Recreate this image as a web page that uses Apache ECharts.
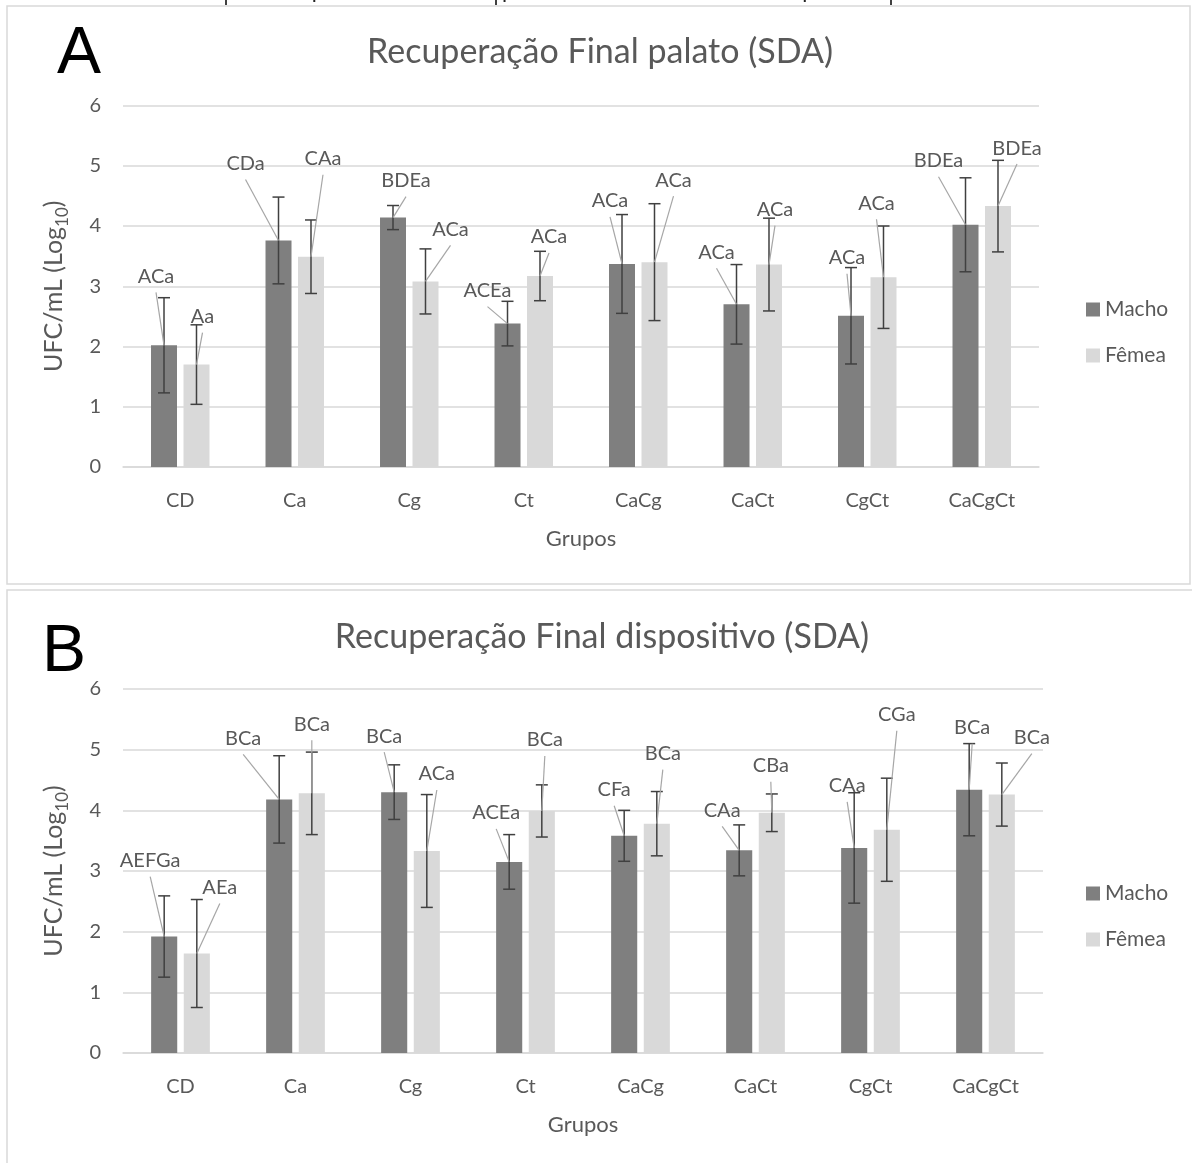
<!DOCTYPE html>
<html>
<head>
<meta charset="utf-8">
<script src="https://cdn.jsdelivr.net/npm/echarts@6.0.0/dist/echarts.min.js"></script>
<style>
    html, body { margin: 0; padding: 0; background: #fff; }
    #chartDiv { width: 1192px; height: 1163px; }
</style>
</head>
<body>
<div id="chartDiv"></div>
<script>
// Dados
const categories = ['CD', 'Ca', 'Cg', 'Ct', 'CaCg', 'CaCt', 'CgCt', 'CaCgCt'];

// A - palato
const palatoMacho = [2.02, 3.76, 4.14, 2.38, 3.37, 2.70, 2.51, 4.02];
const palatoMachoErr = [0.79, 0.72, 0.20, 0.37, 0.82, 0.66, 0.80, 0.78];
const palatoFemea = [1.70, 3.49, 3.08, 3.17, 3.40, 3.36, 3.15, 4.33];
const palatoFemeaErr = [0.66, 0.61, 0.54, 0.41, 0.97, 0.77, 0.85, 0.76];
const palatoMachoLabels = ['ACa', 'CDa', 'BDEa', 'ACEa', 'ACa', 'ACa', 'ACa', 'BDEa'];
const palatoFemeaLabels = ['Aa', 'CAa', 'ACa', 'ACa', 'ACa', 'ACa', 'ACa', 'BDEa'];

// B - dispositivo
const dispMacho = [1.92, 4.18, 4.30, 3.15, 3.58, 3.34, 3.38, 4.34];
const dispMachoErr = [0.67, 0.72, 0.45, 0.45, 0.42, 0.42, 0.91, 0.76];
const dispFemea = [1.64, 4.28, 3.33, 3.99, 3.78, 3.96, 3.68, 4.26];
const dispFemeaErr = [0.89, 0.68, 0.93, 0.43, 0.53, 0.31, 0.85, 0.52];
const dispMachoLabels = ['AEFGa', 'BCa', 'BCa', 'ACEa', 'CFa', 'CAa', 'CAa', 'BCa'];
const dispFemeaLabels = ['AEa', 'BCa', 'ACa', 'BCa', 'BCa', 'CBa', 'CGa', 'BCa'];

// posição dos rótulos (px, relativo ao topo da barra)
const palatoMachoDx = [-8, -33, 13, -20, -12, -20, -4, -27];
const palatoMachoDy = [-69, -77, -37, -33, -63, -52, -58, -64];
const palatoFemeaDx = [6, 12, 25, 9, 19, 6, -7, 19];
const palatoFemeaDy = [-48, -98, -52, -39, -82, -55, -74, -58];
const dispMachoDx = [-14, -36, -10, -13, -10, -17, -7, 3];
const dispMachoDy = [-76, -61, -56, -49, -46, -40, -62, -62];
const dispFemeaDx = [23, 0, 10, 3, 6, -1, 10, 30];
const dispFemeaDy = [-66, -69, -77, -71, -70, -47, -115, -57];

const FONT = 'Lato, "Noto Sans", sans-serif';
const TEXT_COLOR = '#595959';
const MACHO_COLOR = '#7f7f7f';
const FEMEA_COLOR = '#d9d9d9';
const GRID_COLOR = '#d9d9d9';
const BAR_WIDTH_RATIO = 0.227;
const BAR_GAP_RATIO = 0.25;
const LEADER_GAP = 16;

function barOffset(band, sexIdx) {
    const bw = band * BAR_WIDTH_RATIO;
    const gap = bw * BAR_GAP_RATIO;
    return (sexIdx === 0 ? -1 : 1) * (bw + gap) / 2;
}

function barSeries(name, gridIdx, values, color) {
    return {
        name: name,
        type: 'bar',
        xAxisIndex: gridIdx,
        yAxisIndex: gridIdx,
        data: values,
        barWidth: (BAR_WIDTH_RATIO * 100) + '%',
        barGap: (BAR_GAP_RATIO * 100) + '%',
        itemStyle: { color: color },
        silent: true
    };
}

function errorSeries(gridIdx, values, errs, sexIdx) {
    return {
        type: 'custom',
        xAxisIndex: gridIdx,
        yAxisIndex: gridIdx,
        z: 5,
        silent: true,
        data: values.map((v, i) => [i, v, errs[i]]),
        renderItem: (params, api) => {
            const i = api.value(0), v = api.value(1), e = api.value(2);
            const band = api.size([1, 0])[0];
            const x = api.coord([i, v])[0] + barOffset(band, sexIdx);
            const yTop = api.coord([i, v + e])[1];
            const yBot = api.coord([i, v - e])[1];
            const cap = 6;
            const style = { stroke: '#404040', lineWidth: 1.5 };
            return {
                type: 'group',
                children: [
                    { type: 'line', shape: { x1: x, y1: yTop, x2: x, y2: yBot }, style: style },
                    { type: 'line', shape: { x1: x - cap, y1: yTop, x2: x + cap, y2: yTop }, style: style },
                    { type: 'line', shape: { x1: x - cap, y1: yBot, x2: x + cap, y2: yBot }, style: style }
                ]
            };
        }
    };
}

function labelSeries(gridIdx, values, labels, dx, dy, sexIdx) {
    return {
        type: 'custom',
        xAxisIndex: gridIdx,
        yAxisIndex: gridIdx,
        z: 6,
        silent: true,
        data: values.map((v, i) => [i, v]),
        renderItem: (params, api) => {
            const i = api.value(0), v = api.value(1);
            const band = api.size([1, 0])[0];
            const p = api.coord([i, v]);
            const x = p[0] + barOffset(band, sexIdx);
            const y = p[1];
            const lx = x + dx[i], ly = y + dy[i];
            return {
                type: 'group',
                children: [
                    { type: 'line', shape: { x1: lx, y1: ly + LEADER_GAP, x2: x, y2: y },
                      style: { stroke: '#a6a6a6', lineWidth: 1.2 } },
                    { type: 'text', x: lx, y: ly,
                      style: { text: labels[i], fill: TEXT_COLOR, fontSize: 20, fontFamily: FONT,
                               align: 'center', verticalAlign: 'middle' } }
                ]
            };
        }
    };
}

function xAxisFor(gridIdx) {
    return {
        type: 'category',
        gridIndex: gridIdx,
        data: categories,
        axisTick: { show: false },
        axisLine: { lineStyle: { color: GRID_COLOR, width: 1.5 } },
        axisLabel: { color: TEXT_COLOR, fontSize: 20, fontFamily: FONT, margin: 24 },
        name: 'Grupos',
        nameLocation: 'middle',
        nameGap: 61,
        nameTextStyle: { color: TEXT_COLOR, fontSize: 22, fontFamily: FONT }
    };
}

function yAxisFor(gridIdx) {
    return {
        type: 'value',
        gridIndex: gridIdx,
        min: 0,
        max: 6,
        interval: 1,
        axisLine: { show: false },
        axisTick: { show: false },
        axisLabel: { color: TEXT_COLOR, fontSize: 20, fontFamily: FONT, margin: 22 },
        splitLine: { lineStyle: { color: GRID_COLOR, width: 1.5 } },
        name: '{a|UFC/mL (Log}{b|10}{a|)}',
        nameLocation: 'middle',
        nameGap: 52,
        nameTextStyle: {
            rich: {
                a: { color: TEXT_COLOR, fontSize: 25, fontFamily: FONT, lineHeight: 34, verticalAlign: 'middle' },
                b: { color: TEXT_COLOR, fontSize: 17, fontFamily: FONT, lineHeight: 34, verticalAlign: 'bottom' }
            }
        }
    };
}

function legendFor(top) {
    return {
        data: ['Macho', 'Fêmea'],
        orient: 'vertical',
        left: 1081,
        top: top,
        icon: 'rect',
        itemWidth: 14,
        itemHeight: 14,
        itemGap: 25,
        textStyle: { color: TEXT_COLOR, fontSize: 21, fontFamily: FONT, lineHeight: 20 }
    };
}

const chartDom = document.getElementById('chartDiv');
const myChart = echarts.init(chartDom, null, { renderer: 'canvas' });

const option = {
    backgroundColor: '#fff',
    animation: false,
    title: [
        { text: 'Recuperação Final palato (SDA)', left: 600, top: 52, textAlign: 'center',
          textVerticalAlign: 'middle', padding: 0,
          textStyle: { color: TEXT_COLOR, fontSize: 34, fontWeight: 'normal', fontFamily: FONT } },
        { text: 'Recuperação Final dispositivo (SDA)', left: 602, top: 637, textAlign: 'center',
          textVerticalAlign: 'middle', padding: 0,
          textStyle: { color: TEXT_COLOR, fontSize: 34, fontWeight: 'normal', fontFamily: FONT } }
    ],
    legend: [legendFor(294), legendFor(878)],
    grid: [
        { left: 123, top: 105.5, width: 916, height: 361.5 },
        { left: 123, top: 689, width: 920, height: 364 }
    ],
    xAxis: [xAxisFor(0), xAxisFor(1)],
    yAxis: [yAxisFor(0), yAxisFor(1)],
    graphic: [
        { type: 'rect', shape: { x: 7, y: 6, width: 1183, height: 578 },
          style: { fill: 'none', stroke: '#d9d9d9', lineWidth: 1.5 }, silent: true },
        { type: 'polyline', shape: { points: [[1195, 590], [7, 590], [7, 1170]] },
          style: { fill: 'none', stroke: '#d9d9d9', lineWidth: 1.5 }, silent: true },
        { type: 'text', style: { text: 'palato dos animais que continham os dados dos dispositivos',
          x: 600, y: 2, align: 'center', verticalAlign: 'bottom', fill: '#222',
          fontSize: 22, fontFamily: FONT }, silent: true },
        { type: 'line', shape: { x1: 226, y1: 0, x2: 226, y2: 5 }, style: { stroke: '#000', lineWidth: 1.5 } },
        { type: 'line', shape: { x1: 496, y1: 0, x2: 496, y2: 5 }, style: { stroke: '#000', lineWidth: 1.5 } },
        { type: 'line', shape: { x1: 891, y1: 0, x2: 891, y2: 5 }, style: { stroke: '#000', lineWidth: 1.5 } },
        { type: 'text', style: { text: 'A', x: 79, y: 55, align: 'center', verticalAlign: 'middle',
          fill: '#000', fontSize: 66, fontFamily: '"Liberation Sans", Arial, sans-serif' }, silent: true },
        { type: 'text', style: { text: 'B', x: 64, y: 653, align: 'center', verticalAlign: 'middle',
          fill: '#000', fontSize: 66, fontFamily: '"Liberation Sans", Arial, sans-serif' }, silent: true }
    ],
    series: [
        barSeries('Macho', 0, palatoMacho, MACHO_COLOR),
        barSeries('Fêmea', 0, palatoFemea, FEMEA_COLOR),
        barSeries('Macho', 1, dispMacho, MACHO_COLOR),
        barSeries('Fêmea', 1, dispFemea, FEMEA_COLOR),
        errorSeries(0, palatoMacho, palatoMachoErr, 0),
        errorSeries(0, palatoFemea, palatoFemeaErr, 1),
        errorSeries(1, dispMacho, dispMachoErr, 0),
        errorSeries(1, dispFemea, dispFemeaErr, 1),
        labelSeries(0, palatoMacho, palatoMachoLabels, palatoMachoDx, palatoMachoDy, 0),
        labelSeries(0, palatoFemea, palatoFemeaLabels, palatoFemeaDx, palatoFemeaDy, 1),
        labelSeries(1, dispMacho, dispMachoLabels, dispMachoDx, dispMachoDy, 0),
        labelSeries(1, dispFemea, dispFemeaLabels, dispFemeaDx, dispFemeaDy, 1)
    ]
};

myChart.setOption(option);

window.addEventListener('resize', () => {
    myChart.resize();
});
</script>
</body>
</html>
